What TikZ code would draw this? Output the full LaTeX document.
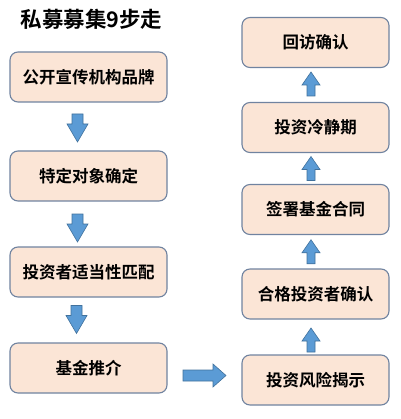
\documentclass[tikz,border=0pt]{standalone}
\usepackage{fontspec}
\setmainfont{Noto Sans CJK SC}[BoldFont={Noto Sans CJK SC Bold}]
\usetikzlibrary{calc}
\definecolor{boxfill}{RGB}{251,229,214}
\definecolor{boxdraw}{RGB}{112,131,160}
\definecolor{arrfill}{RGB}{91,155,213}
\definecolor{arrdraw}{RGB}{65,113,156}
\tikzset{
  x=1pt, y=-1pt,
  stepbox/.style={draw=boxdraw, fill=boxfill, line width=1.1pt, rounded corners=8pt,
    font=\fontsize{16.5}{19}\selectfont\bfseries, inner sep=0pt},
  lbox/.style={stepbox, minimum width=157pt, minimum height=50pt},
  rbox/.style={stepbox, minimum width=147pt, minimum height=50pt},
  blockarrow/.style={fill=arrfill, draw=arrdraw, line width=0.6pt, line join=miter},
  pics/downarr/.style={code={
    \draw[blockarrow] (-5.5,-14) -- (5.5,-14) -- (5.5,-4) -- (10.5,-4) -- (0,14) -- (-10.5,-4) -- (-5.5,-4) -- cycle;}},
  pics/uparr/.style={code={
    \draw[blockarrow] (-4,12) -- (4,12) -- (4,1) -- (9,1) -- (0,-12) -- (-9,1) -- (-4,1) -- cycle;}},
  pics/rightarr/.style={code={
    \draw[blockarrow] (-21.5,-5.5) -- (8.5,-5.5) -- (8.5,-11.5) -- (21.5,0) -- (8.5,11.5) -- (8.5,5.5) -- (-21.5,5.5) -- cycle;}}
}
\begin{document}
\begin{tikzpicture}
\useasboundingbox (0,0) rectangle (400,419);
\node[font=\fontsize{21.5}{25}\selectfont\bfseries, anchor=west] (title) at (17,19) {私募募集9步走};
\node[lbox] (b1) at (88.5,77) {公开宣传机构品牌};
\node[lbox] (b2) at (88.5,176) {特定对象确定};
\node[lbox] (b3) at (88.5,272) {投资者适当性匹配};
\node[lbox] (b4) at (88.5,368) {基金推介};
\node[rbox] (r1) at (315.5,42.5) {回访确认};
\node[rbox] (r2) at (315.5,127.5) {投资冷静期};
\node[rbox] (r3) at (315.5,209.5) {签署基金合同};
\node[rbox] (r4) at (315.5,294) {合格投资者确认};
\node[rbox] (r5) at (315.5,380) {投资风险揭示};
\pic at ($(b1.south)!0.5!(b2.north)+(-11,1.5)$) {downarr};
\pic at ($(b2.south)!0.5!(b3.north)+(-11,4)$) {downarr};
\pic at ($(b3.south)!0.5!(b4.north)+(-12,-0.5)$) {downarr};
\pic at ($(r5.north)!0.5!(r4.south)+(-4.5,3)$) {uparr};
\pic at ($(r4.north)!0.5!(r3.south)+(-4.5,0)$) {uparr};
\pic at ($(r3.north)!0.5!(r2.south)+(-4.5,0)$) {uparr};
\pic at ($(r2.north)!0.5!(r1.south)+(-4.5,-1)$) {uparr};
\pic at ($(b4.east)!0.5!(r5.west)+(0,1.5)$) {rightarr};
\end{tikzpicture}
\end{document}
